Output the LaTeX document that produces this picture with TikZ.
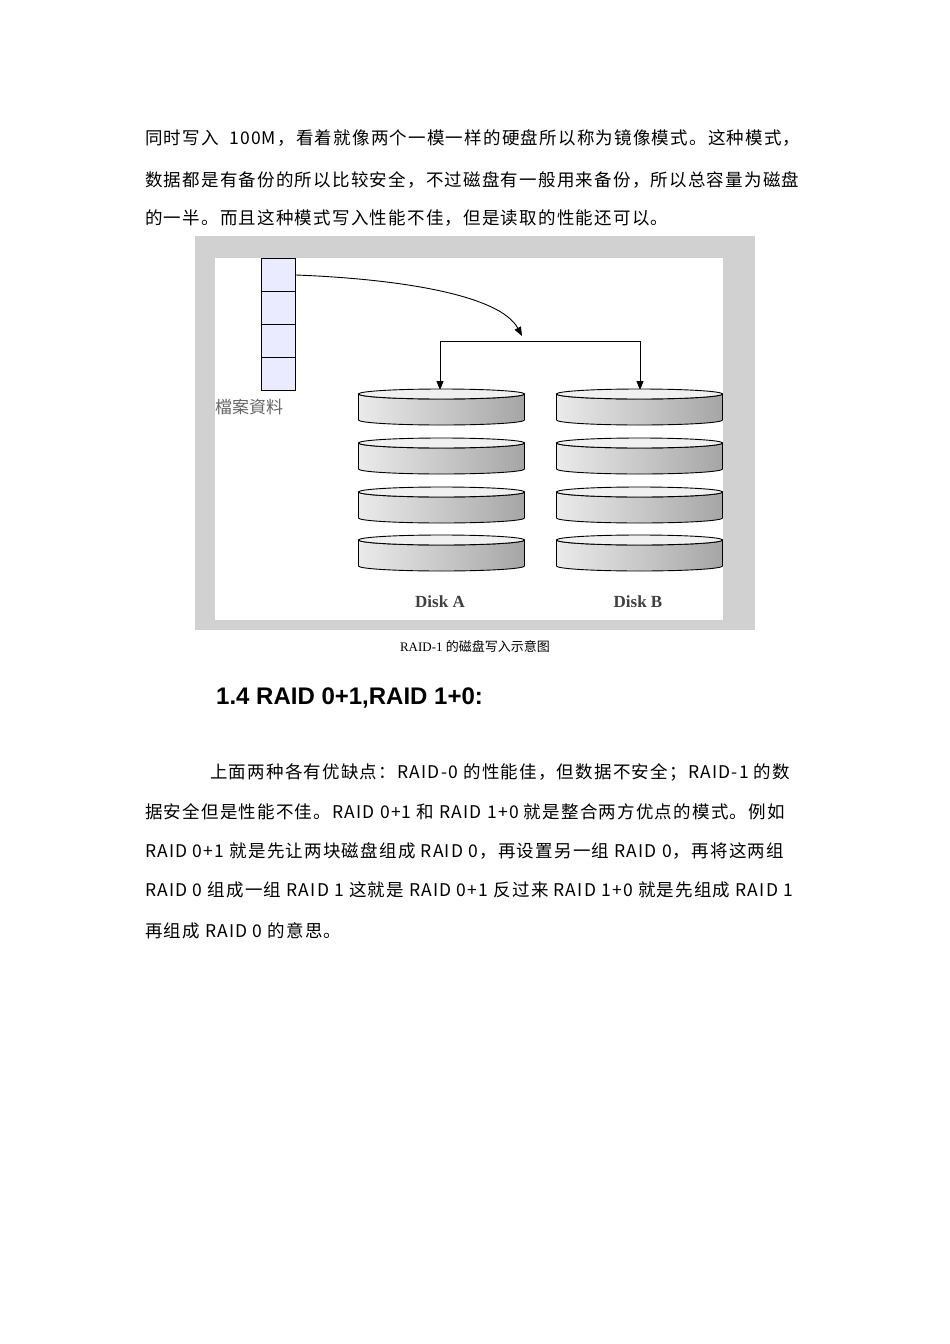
\documentclass[tikz,border=0pt]{standalone}
\usepackage{fontspec}
\setmainfont{Liberation Serif}
\newfontfamily\cjk{Noto Sans CJK SC}
\newfontfamily\cjkb[LetterSpace=7]{Noto Sans CJK SC}
\newfontfamily\heads{Liberation Sans}
\usetikzlibrary{arrows.meta}
\begin{document}
\begin{tikzpicture}[x=1pt,y=-1pt,
  body/.style={anchor=west,inner sep=0pt,font=\cjkb\fontsize{17.5}{19}\selectfont},
  cell/.style={draw,fill=blue!8,minimum width=34pt,minimum height=33pt,inner sep=0pt,line width=0.8pt},
  arr/.style={-{Triangle[length=9pt,width=7pt]},line width=0.9pt},
  disklbl/.style={font=\bfseries\fontsize{17}{19}\selectfont,text=black!75}]
\useasboundingbox (0,0) rectangle (950,1344);
\fill[white] (0,0) rectangle (950,1344);
% text above
\node[body] (l1) at (145,138) {同时写入\ \ 100M，看着就像两个一模一样的硬盘所以称为镜像模式。这种模式，};
\node[body] (l2) at (145,180) {数据都是有备份的所以比较安全，不过磁盘有一般用来备份，所以总容量为磁盘};
\node[body] (l3) at (145,218) {的一半。而且这种模式写入性能不佳，但是读取的性能还可以。};
% figure frame
\fill[black!18] (195,236) rectangle (755,630);
\fill[white] (215,258) rectangle (723,620);
% file column
\foreach \i/\y in {1/275,2/308,3/341,4/374}
  \node[cell] (c\i) at (278.5,\y) {};
\node[font=\cjk\fontsize{17}{19}\selectfont,text=black!60,anchor=west,inner sep=0pt] (flbl) at (215,407) {檔案資料};
\coordinate (split) at (522,341);
\coordinate (ja) at (440,341);
\coordinate (jb) at (640,341);
\draw[arr] (c1.east) .. controls (400,279) and (500,295) .. (522,336);
\draw[line width=0.9pt] (ja) -- (jb);
\draw[arr] (ja) -- (440,390);
\draw[arr] (jb) -- (640,390);
% disks
\foreach \cx in {441.5,639.5}{
 \foreach \t in {389,438,487,535}{
  \shade[left color=black!8,right color=black!35,draw=black,line width=0.9pt]
    (\cx-83,\t+5) -- (\cx-83,\t+31) arc[start angle=180,end angle=0,x radius=83,y radius=5]
    -- (\cx+83,\t+5) arc[start angle=0,end angle=180,x radius=83,y radius=5] -- cycle;
  \draw[line width=0.9pt,fill=black!6] (\cx,\t+5) ellipse[x radius=83,y radius=5];
 }}
\node[disklbl] (da) at (440,602) {Disk A};
\node[disklbl] (db) at (638,602) {Disk B};
\node[font=\cjk\fontsize{13}{15}\selectfont] (cap) at (475,646) {\fontspec{Liberation Serif}RAID-1 \cjk 的磁盘写入示意图};
% heading
\node[anchor=west,inner sep=0pt,font=\heads\bfseries\fontsize{24}{26}\selectfont] (h) at (216,698) {1.4 RAID 0+1,RAID 1+0:};
% paragraph
\node[body] (p1) at (210,772) {上面两种各有优缺点：RAID-0 的性能佳，但数据不安全；RAID-1 的数};
\node[body] (p2) at (145,812) {据安全但是性能不佳。RAID 0+1 和 RAID 1+0 就是整合两方优点的模式。例如};
\node[body] (p3) at (145,851) {RAID 0+1 就是先让两块磁盘组成 RAID 0，再设置另一组 RAID 0，再将这两组};
\node[body] (p4) at (145,890) {RAID 0 组成一组 RAID 1 这就是 RAID 0+1 反过来 RAID 1+0 就是先组成 RAID 1};
\node[body] (p5) at (145,931) {再组成 RAID 0 的意思。};
\end{tikzpicture}
\end{document}
